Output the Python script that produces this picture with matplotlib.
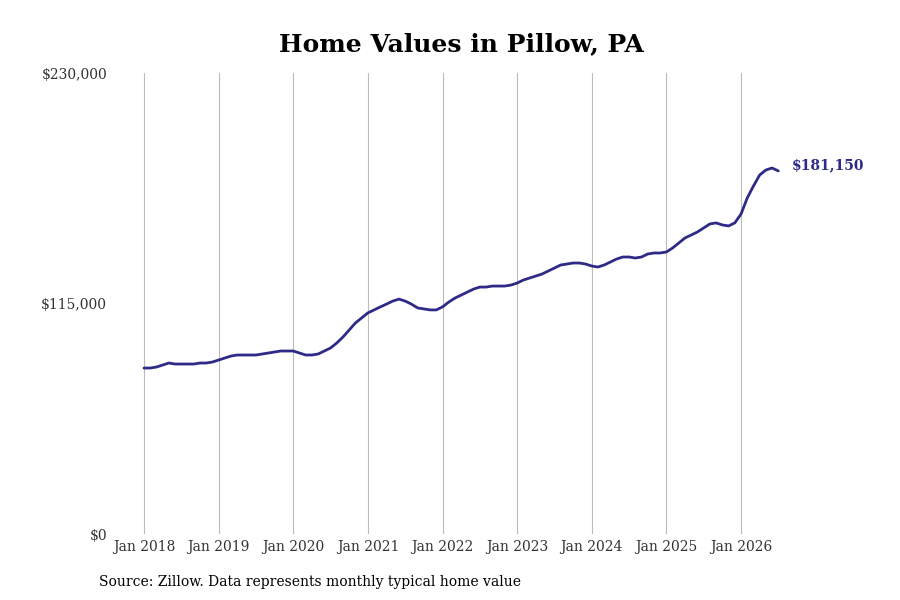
import matplotlib
matplotlib.use("Agg")
import matplotlib.pyplot as plt

plt.rcParams['font.family'] = ['DejaVu Serif']

title = "Home Values in Pillow, PA"
source = "Source: Zillow. Data represents monthly typical home value"
start_year = 2018
values = [
    82800, 82800, 83300, 84300, 85300, 84800, 84800, 84800, 84800, 85300, 85300, 85800,
    86800, 87800, 88800, 89300, 89300, 89300, 89300, 89800, 90300, 90800, 91300, 91300,
    91300, 90300, 89300, 89300, 89800, 91300, 92800, 95300, 98300, 101800, 105300, 107800,
    110300, 111800, 113300, 114700, 116200, 117200, 116200, 114700, 112800, 112300, 111800, 111800,
    113300, 115700, 117700, 119200, 120700, 122200, 123200, 123200, 123700, 123700, 123700, 124200,
    125200, 126700, 127700, 128700, 129700, 131200, 132700, 134200, 134700, 135200, 135200, 134700,
    133700, 133200, 134200, 135700, 137200, 138200, 138200, 137700, 138200, 139700, 140200, 140200,
    140700, 142700, 145200, 147700, 149200, 150700, 152700, 154700, 155200, 154200, 153700, 155200,
    159600, 167600, 173600, 179100, 181600, 182600, 181150,
]
year_ticks = [2018, 2019, 2020, 2021, 2022, 2023, 2024, 2025, 2026]
y_ticks = [0, 115000, 230000]
y_labels = ["$0", "$115,000", "$230,000"]
end_label = "$181,150"

line_color = "#2e2a87"

fig = plt.figure(figsize=(9, 6), dpi=100)
ax = fig.add_axes([112/900, 1 - 534/600, (860-112)/900, (534-73)/600])

x = [start_year + i/12 for i in range(len(values))]
ax.plot(x, values, color=line_color, lw=2.0, solid_capstyle='round', zorder=3)

px_per_year = (741 - 144) / 8
ax.set_xlim(2018 - (144-112)/px_per_year, 2018 + (860-144)/px_per_year)
ax.set_ylim(0, 230000)

ax.set_xticks(year_ticks)
ax.set_xticklabels([f"Jan {y}" for y in year_ticks], fontsize=10, color="#333333")
ax.set_yticks(y_ticks)
ax.set_yticklabels(y_labels, fontsize=10, color="#333333")
ax.tick_params(axis='both', length=0)
ax.tick_params(axis='x', pad=4)
ax.tick_params(axis='y', pad=3.5)
ax.grid(axis='x', color="#bbbbbb", lw=0.8)
ax.grid(axis='y', visible=False)
for s in ax.spines.values():
    s.set_visible(False)

ax.annotate(end_label, xy=(x[-1], values[-1]), xytext=(10, 4), textcoords='offset points',
            fontsize=10, fontweight='bold', color=line_color, va='center', ha='left')

fig.text(461/900, 1 - 44/600, title, fontsize=18, fontweight='bold', ha='center', va='center', color='black')
fig.text(99/900, 1 - 582/600, source, fontsize=10, ha='left', va='center', color='black')

fig.savefig("out.png", dpi=100)
